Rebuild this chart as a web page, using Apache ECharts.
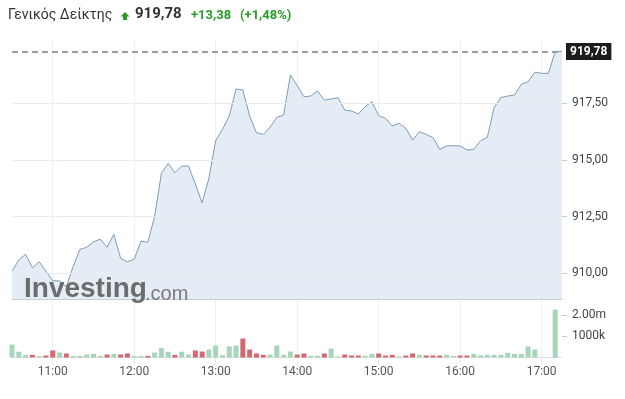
<!DOCTYPE html>
<html>
<head>
<meta charset="utf-8">
<script src="https://cdn.jsdelivr.net/npm/echarts@6/dist/echarts.min.js"></script>
<style>html,body{margin:0;padding:0;background:#fff}#c{width:625px;height:399px}</style>
</head>
<body>
<div id="c"></div>
<script>
const indexName = 'Γενικός Δείκτης';
const change = 13.38;
const changePct = 1.48;

const times = ('10:30 10:35 10:40 10:45 10:50 10:55 ' +
  '11:00 11:05 11:10 11:15 11:20 11:25 11:30 11:35 11:40 11:45 11:50 11:55 ' +
  '12:00 12:05 12:10 12:15 12:20 12:25 12:30 12:35 12:40 12:45 12:50 12:55 ' +
  '13:00 13:05 13:10 13:15 13:20 13:25 13:30 13:35 13:40 13:45 13:50 13:55 ' +
  '14:00 14:05 14:10 14:15 14:20 14:25 14:30 14:35 14:40 14:45 14:50 14:55 ' +
  '15:00 15:05 15:10 15:15 15:20 15:25 15:30 15:35 15:40 15:45 15:50 15:55 ' +
  '16:00 16:05 16:10 16:15 16:20 16:25 16:30 16:35 16:40 16:45 16:50 16:55 ' +
  '17:00 17:05 17:10 17:15').split(' ');

const prices = [
  910.10, 910.59, 910.84, 910.25, 910.51, 910.10, 909.67, 909.67, 909.41, 910.30,
  911.06, 911.15, 911.39, 911.51, 911.15, 911.72, 910.66, 910.51, 910.63, 911.42,
  911.37, 912.50, 914.41, 914.85, 914.44, 914.73, 914.73, 913.94, 913.11, 914.19,
  915.85, 916.35, 916.94, 918.13, 918.09, 916.94, 916.20, 916.13, 916.44, 916.88,
  916.98, 918.75, 918.28, 917.79, 917.82, 918.04, 917.64, 917.69, 917.75, 917.20,
  917.16, 917.03, 917.35, 917.57, 916.95, 916.84, 916.50, 916.62, 916.40, 915.88,
  916.25, 916.13, 915.98, 915.47, 915.62, 915.63, 915.62, 915.44, 915.47, 915.85,
  916.00, 917.31, 917.75, 917.82, 917.86, 918.34, 918.45, 918.87, 918.82, 918.82,
  919.78, 919.78
];

const volumes = [
  610000, 270000, 125000, 125000, 63000, 94000, 330000, 235000, 190000, 78000,
  78000, 140000, 170000, 78000, 140000, 170000, 140000, 190000, 63000, 63000,
  78000, 235000, 450000, 270000, 125000, 270000, 140000, 330000, 280000, 375000,
  560000, 110000, 520000, 560000, 890000, 375000, 190000, 125000, 140000, 560000,
  130000, 280000, 140000, 190000, 78000, 78000, 190000, 420000, 50000, 140000,
  94000, 94000, 78000, 170000, 190000, 94000, 125000, 50000, 94000, 190000,
  125000, 94000, 94000, 94000, 125000, 78000, 94000, 94000, 170000, 94000,
  125000, 125000, 125000, 220000, 170000, 170000, 520000, 375000, 0, 0,
  2250000, 0
];

const priceTicks = [910, 912.5, 915, 917.5];
const volumeTicks = [1000000, 2000000];

const lastPrice = prices[prices.length - 1];
const fmtNum = v => v.toFixed(2).replace('.', ',');
const isHour = (i, v) => /:00$/.test(v);
const GREEN = '#2b9b2b';

const chart = echarts.init(document.getElementById('c'), null, {renderer: 'canvas'});
const gridLine = {color: '#edf0f3', width: 1};

chart.setOption({
  animation: false,
  textStyle: {fontFamily: 'Roboto, sans-serif'},
  grid: [
    {left: 12, right: 63, top: 40, height: 259},
    {left: 12, right: 63, top: 300, height: 57.5}
  ],
  xAxis: [
    {
      type: 'category', gridIndex: 0, data: times, boundaryGap: false,
      axisLabel: {show: false}, axisTick: {show: false},
      axisLine: {lineStyle: {color: '#cccccc'}},
      splitLine: {show: true, interval: isHour, lineStyle: gridLine}
    },
    {
      type: 'category', gridIndex: 1, data: times, boundaryGap: false,
      axisLabel: {interval: isHour, color: '#555', fontSize: 12, margin: 8},
      axisTick: {show: true, interval: isHour, length: 7, lineStyle: {color: '#e6e8eb'}},
      axisLine: {lineStyle: {color: '#dddddd'}},
      splitLine: {show: true, interval: isHour, lineStyle: gridLine}
    }
  ],
  yAxis: [
    {
      type: 'value', gridIndex: 0, position: 'right', min: 908.87, max: 920.29,
      splitLine: {show: false}, axisLine: {show: false},
      axisTick: {show: true, customValues: priceTicks, length: 5, lineStyle: {color: '#cccccc'}},
      axisLabel: {customValues: priceTicks, formatter: v => fmtNum(v), color: '#444', fontSize: 12, margin: 10}
    },
    {
      type: 'value', gridIndex: 1, position: 'right', min: 0, max: 2700000,
      splitLine: {show: false}, axisLine: {show: false},
      axisTick: {show: true, customValues: volumeTicks, length: 5, lineStyle: {color: '#cccccc'}},
      axisLabel: {
        customValues: volumeTicks, color: '#444', fontSize: 12, margin: 10,
        formatter: v => v >= 2000000 ? (v / 1e6).toFixed(2) + 'm' : (v / 1000) + 'k'
      }
    }
  ],
  series: [
    {
      type: 'line', xAxisIndex: 0, yAxisIndex: 0, data: prices,
      symbol: 'none', smooth: false,
      lineStyle: {color: '#7e9cb4', width: 1},
      areaStyle: {color: '#e4ecf5', opacity: 1, origin: 'start'},
      z: 2,
      markLine: {
        silent: true, symbol: ['none', 'none'], animation: false,
        data: priceTicks.map(v => ({yAxis: v, lineStyle: {color: '#e9edf1', width: 1, type: 'solid'}, label: {show: false}}))
          .concat([{
            yAxis: lastPrice,
            lineStyle: {color: '#9e9e9e', width: 2, type: [6, 4]},
            label: {
              show: true, position: 'end', formatter: fmtNum(lastPrice),
              backgroundColor: '#1c1c1c', color: '#fff', fontWeight: 'bold', fontSize: 12,
              padding: [3, 4, 2, 4], distance: 4
            }
          }])
      }
    },
    {
      type: 'bar', xAxisIndex: 1, yAxisIndex: 1, barWidth: 5, clip: false,
      data: volumes.map((v, i) => ({
        value: v,
        itemStyle: {color: (i === 0 || prices[i] >= prices[i - 1]) ? '#a6d5b9' : '#d4676f'}
      }))
    }
  ],
  graphic: [
    {type: 'text', left: 8, top: 8, style: {text: indexName, font: '14px Roboto', fill: '#333'}},
    {type: 'polygon', shape: {points: [[125, 12], [129.5, 16.5], [127, 16.5], [127, 20], [123, 20], [123, 16.5], [120.5, 16.5]]}, style: {fill: GREEN}},
    {type: 'text', left: 135, top: 7, style: {text: fmtNum(lastPrice), font: 'bold 15px Roboto', fill: '#333'}},
    {type: 'text', left: 191, top: 9, style: {text: '+' + fmtNum(change), font: 'bold 13px Roboto', fill: GREEN}},
    {type: 'text', left: 240, top: 9, style: {text: '(+' + fmtNum(changePct) + '%)', font: 'bold 13px Roboto', fill: GREEN}},
    {type: 'text', left: 24, top: 275, z: 10, style: {text: 'Investing', font: 'bold 28px "Liberation Sans"', fill: '#6c6c6c'}},
    {type: 'text', left: 145, top: 284, z: 10, style: {text: '.com', font: '20px "Liberation Sans"', fill: '#7a7a7a'}}
  ]
});
</script>
</body>
</html>
